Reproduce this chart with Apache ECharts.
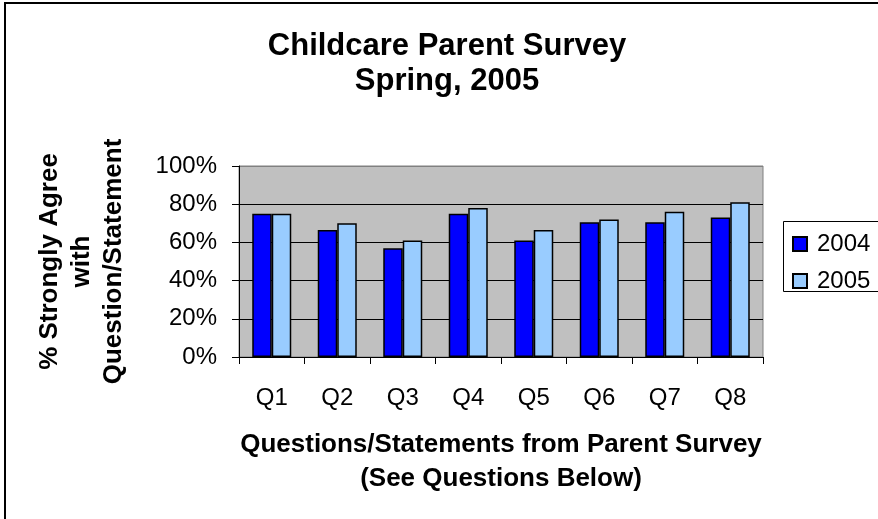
<!DOCTYPE html>
<html>
<head>
<meta charset="utf-8">
<script src="https://cdn.jsdelivr.net/npm/echarts@6/dist/echarts.min.js"></script>
<style>html,body{margin:0;padding:0;background:#fff;}#c{width:878px;height:519px;}</style>
</head>
<body>
<div id="c"></div>
<script>
var categories = ['Q1', 'Q2', 'Q3', 'Q4', 'Q5', 'Q6', 'Q7', 'Q8'];
var series2004 = [75, 66.5, 57, 75, 61, 70.5, 70.5, 73];
var series2005 = [75, 70, 61, 78, 66.5, 72, 76, 81];
var seriesNames = ['2004', '2005'];
var yTicks = { min: 0, max: 100, interval: 20 };

var FONT = '"Liberation Sans", Arial, sans-serif';
var chart = echarts.init(document.getElementById('c'), null, { renderer: 'canvas' });
chart.setOption({
  animation: false,
  backgroundColor: '#ffffff',
  title: {
    text: 'Childcare Parent Survey\nSpring, 2005',
    left: 447,
    top: 29,
    padding: 0,
    textAlign: 'center',
    textStyle: { fontFamily: FONT, fontSize: 31, fontWeight: 'bold', color: '#000', lineHeight: 35, align: 'center' }
  },
  legend: {
    data: seriesNames,
    orient: 'vertical',
    left: 792,
    top: 232,
    padding: 0,
    itemWidth: 14,
    itemHeight: 14,
    itemGap: 13,
    icon: 'rect',
    textStyle: { fontFamily: FONT, fontSize: 24, color: '#000', lineHeight: 24, padding: [0, 0, 0, 5] }
  },
  grid: {
    left: 239, top: 166, right: 115, bottom: 162,
    show: true, backgroundColor: '#C0C0C0', borderColor: '#808080', borderWidth: 1
  },
  xAxis: {
    type: 'category',
    data: categories,
    name: 'Questions/Statements from Parent Survey\n(See Questions Below)',
    nameLocation: 'middle',
    nameGap: 71,
    nameTextStyle: { fontFamily: FONT, fontSize: 26, fontWeight: 'bold', color: '#000', lineHeight: 34 },
    axisLine: { lineStyle: { color: '#000', width: 1 } },
    axisTick: { show: true, length: 7, alignWithLabel: false, lineStyle: { color: '#000' } },
    axisLabel: { fontFamily: FONT, fontSize: 24, color: '#000', margin: 29 },
    splitLine: { show: false }
  },
  yAxis: {
    type: 'value',
    min: yTicks.min, max: yTicks.max, interval: yTicks.interval,
    name: '% Strongly Agree\nwith\nQuestion/Statement',
    nameLocation: 'middle',
    nameRotate: 90,
    nameGap: 109,
    nameTextStyle: { fontFamily: FONT, fontSize: 26, fontWeight: 'bold', color: '#000', lineHeight: 32 },
    axisLine: { show: true, lineStyle: { color: '#000', width: 1 } },
    axisTick: { show: true, length: 7, lineStyle: { color: '#000' } },
    axisLabel: { fontFamily: FONT, fontSize: 24, color: '#000', margin: 22, formatter: '{value}%' },
    splitLine: { show: true, lineStyle: { color: ['#000', '#000', '#000', '#000', '#000', '#808080'], width: 1 } }
  },
  series: [
    {
      name: seriesNames[0], type: 'bar', data: series2004,
      barWidth: 19.5, barGap: '0%',
      itemStyle: { color: '#0000FF', borderColor: '#000', borderWidth: 1.5 }
    },
    {
      name: seriesNames[1], type: 'bar', data: series2005,
      barWidth: 19.5, barGap: '0%',
      itemStyle: { color: '#99CCFF', borderColor: '#000', borderWidth: 1.5 }
    }
  ],
  graphic: [
    { type: 'rect', shape: { x: 5, y: 3, width: 900, height: 600 }, style: { fill: 'none', stroke: '#000', lineWidth: 2 }, z: 100 },
    { type: 'rect', shape: { x: 783.5, y: 221.5, width: 100, height: 70 }, style: { fill: 'none', stroke: '#000', lineWidth: 1 }, z: 100 }
  ]
});
</script>
</body>
</html>
